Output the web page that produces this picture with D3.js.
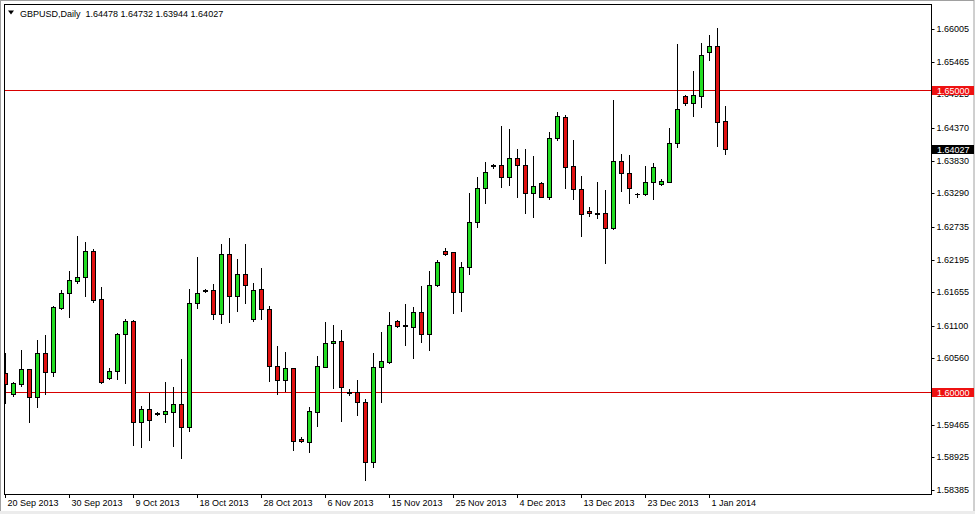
<!DOCTYPE html>
<html><head><meta charset="utf-8">
<script src="https://cdn.jsdelivr.net/npm/d3@7"></script>
<style>
html,body{margin:0;padding:0;background:#fff;}
svg{display:block;}
text{font-family:"Liberation Sans",Arial,sans-serif;}
</style></head><body>
<svg id="chart" width="975" height="514"></svg>
<script>
// ---- data (GBPUSD daily) ----
const symbol = "GBPUSD,Daily";
const open = [1.60319,1.59972,1.60137,1.60385,1.59922,1.60649,1.60335,1.61393,1.61641,1.61840,
1.61906,1.62335,1.61542,1.60236,1.60352,1.60964,1.61179,1.59509,1.59724,1.59658,
1.59641,1.59674,1.59807,1.59426,1.61476,1.61680,1.61691,1.61294,1.62286,1.61592,
1.61955,1.61212,1.61707,1.61377,1.60434,1.60203,1.60401,1.59228,1.59179,1.59674,
1.60418,1.60815,1.60848,1.60005,1.60005,1.59840,1.58848,1.60418,1.60501,1.61179,
1.61105,1.61080,1.61327,1.60964,1.61773,1.62335,1.62319,1.61658,1.62071,1.62815,
1.63377,1.63757,1.63757,1.63559,1.63873,1.63757,1.63294,1.63459,1.63228,1.64203,
1.64550,1.63740,1.63360,1.62996,1.62963,1.62963,1.62715,1.63823,1.63625,1.63278,
1.63278,1.63476,1.63443,1.63476,1.64120,1.64898,1.64782,1.64898,1.65625,1.65724,
1.64478];
const high = [1.60649,1.60170,1.60699,1.60385,1.60864,1.60947,1.61426,1.61691,1.62005,1.62583,
1.62484,1.62368,1.61740,1.60401,1.60980,1.61212,1.61195,1.59774,1.59989,1.59674,
1.60170,1.60087,1.60550,1.61707,1.62236,1.61707,1.61790,1.62451,1.62550,1.62203,
1.62451,1.61807,1.62054,1.61426,1.60765,1.60666,1.60401,1.59261,1.59757,1.60600,
1.61162,1.61112,1.61030,1.60055,1.60203,1.59889,1.60649,1.60997,1.61327,1.61195,
1.61459,1.61410,1.61757,1.62005,1.62187,1.62385,1.62319,1.62154,1.63294,1.63559,
1.63806,1.63774,1.64401,1.64352,1.64021,1.64021,1.63906,1.63470,1.64302,1.64633,
1.64584,1.64170,1.63575,1.63063,1.63476,1.63344,1.64831,1.63939,1.63922,1.63294,
1.63740,1.63790,1.63525,1.64368,1.65757,1.64914,1.65311,1.65773,1.65906,1.66021,
1.64732];
const low = [1.59823,1.59939,1.60104,1.59509,1.59757,1.59972,1.60269,1.61377,1.61245,1.61807,
1.61592,1.61492,1.60153,1.60220,1.60220,1.60153,1.59129,1.59096,1.59211,1.59625,
1.59509,1.59112,1.58914,1.59360,1.61393,1.61658,1.61212,1.61146,1.61162,1.61344,
1.61476,1.61179,1.61212,1.60187,1.59972,1.60022,1.59046,1.59179,1.59013,1.59443,
1.60418,1.60071,1.59526,1.59955,1.59625,1.58550,1.58765,1.59840,1.60484,1.61080,
1.60782,1.60567,1.60831,1.60699,1.61757,1.62269,1.61311,1.61344,1.61955,1.62733,
1.63129,1.63707,1.63393,1.63426,1.63228,1.62963,1.62897,1.63220,1.63195,1.64170,
1.63377,1.63195,1.62583,1.62914,1.62881,1.62137,1.62699,1.63327,1.63129,1.63228,
1.63261,1.63195,1.63426,1.63476,1.64054,1.64749,1.64567,1.64716,1.65492,1.64071,
1.63944];
const close = [1.60137,1.60153,1.60385,1.59922,1.60649,1.60335,1.61410,1.61641,1.61856,1.61906,
1.62335,1.61525,1.60170,1.60352,1.60964,1.61179,1.59509,1.59724,1.59542,1.59641,
1.59691,1.59807,1.59426,1.61476,1.61641,1.61685,1.61294,1.62286,1.61592,1.61955,
1.61773,1.61691,1.61377,1.60434,1.60203,1.60401,1.59195,1.59195,1.59691,1.60434,
1.60815,1.60848,1.60087,1.59995,1.59840,1.58848,1.60418,1.60517,1.61113,1.61096,
1.61096,1.61327,1.60964,1.61773,1.62154,1.62286,1.61658,1.62071,1.62815,1.63377,
1.63641,1.63740,1.63559,1.63873,1.63757,1.63294,1.63409,1.63228,1.64203,1.64567,
1.63724,1.63360,1.62947,1.62963,1.62955,1.62715,1.63823,1.63625,1.63377,1.63270,
1.63476,1.63724,1.63492,1.64120,1.64682,1.64782,1.64914,1.65576,1.65724,1.64468,
1.64027];
const dateLabels = ["20 Sep 2013","30 Sep 2013","9 Oct 2013","18 Oct 2013","28 Oct 2013","6 Nov 2013",
  "15 Nov 2013","25 Nov 2013","4 Dec 2013","13 Dec 2013","23 Dec 2013","1 Jan 2014"];
const barsPerLabel = 8;
const priceTicks = [1.66005,1.65465,1.64925,1.64370,1.63830,1.63290,1.62735,1.62195,1.61655,
  1.61100,1.60560,1.59465,1.58925,1.58385];
const levels = [1.65000, 1.60000];

// ---- layout ----
const W = 975, H = 514;
const plot = {left: 4, top: 4, right: 931, bottom: 494};
const svg = d3.select("#chart");

const n = open.length;
const x = d3.scaleLinear().domain([0, n - 1]).range([5, 5 + 8 * (n - 1)]);
const y = d3.scaleLinear().domain([1.58385, 1.66005]).range([490, 29]);

const UP = "#22dd22", DOWN = "#e01010";

// outer window frame
svg.append("rect").attr("x", 0.5).attr("y", 0.5).attr("width", W - 1.5).attr("height", H - 3)
  .attr("fill", "#fff").attr("stroke", "#a0a0a0");
svg.append("rect").attr("x", 0).attr("y", H - 3).attr("width", W).attr("height", 3).attr("fill", "#ececec");

// clip
svg.append("clipPath").attr("id", "clip").append("rect")
  .attr("x", plot.left + 1).attr("y", plot.top + 1)
  .attr("width", plot.right - plot.left - 1).attr("height", plot.bottom - plot.top - 1);

const g = svg.append("g").attr("clip-path", "url(#clip)");

// horizontal level lines
g.selectAll("line.level").data(levels).join("line")
  .attr("class", "level")
  .attr("x1", plot.left).attr("x2", plot.right)
  .attr("y1", d => Math.round(y(d)) + 0.5).attr("y2", d => Math.round(y(d)) + 0.5)
  .attr("stroke", "#d80000").attr("stroke-width", 1);

// candles
const idx = d3.range(n);
const px = i => Math.round(x(i));
const py = v => Math.round(y(v));

const c = g.selectAll("g.candle").data(idx).join("g").attr("class", "candle");
c.append("line")
  .attr("x1", i => px(i) + 0.5).attr("x2", i => px(i) + 0.5)
  .attr("y1", i => py(high[i])).attr("y2", i => py(low[i]) + 1)
  .attr("stroke", "#000").attr("stroke-width", 1);
c.each(function(i) {
  const sel = d3.select(this);
  const top = py(Math.max(open[i], close[i]));
  const bot = py(Math.min(open[i], close[i]));
  if (bot - top < 1) {
    sel.append("line")
      .attr("x1", px(i) - 2).attr("x2", px(i) + 3)
      .attr("y1", top + 0.5).attr("y2", top + 0.5)
      .attr("stroke", "#000").attr("stroke-width", 1);
  } else {
    sel.append("rect")
      .attr("x", px(i) - 1.5).attr("width", 4)
      .attr("y", top + 0.5).attr("height", bot - top)
      .attr("fill", close[i] >= open[i] ? UP : DOWN)
      .attr("stroke", "#000").attr("stroke-width", 1);
  }
});

// plot frame
svg.append("rect")
  .attr("x", plot.left + 0.5).attr("y", plot.top + 0.5)
  .attr("width", plot.right - plot.left).attr("height", plot.bottom - plot.top)
  .attr("fill", "none").attr("stroke", "#000");

// title
svg.append("path").attr("d", "M8,10.5 L14,10.5 L11,14.5 Z").attr("fill", "#000");
const last = n - 1;
svg.append("text").attr("x", 20).attr("y", 17).attr("font-size", 9).attr("fill", "#000")
  .attr("xml:space", "preserve")
  .text(`${symbol}  ${open[last].toFixed(5)} ${high[last].toFixed(5)} ${low[last].toFixed(5)} ${close[last].toFixed(5)}`);

// right price axis
const yAxis = d3.axisRight(y).tickValues(priceTicks).tickSize(3).tickPadding(2)
  .tickFormat(d3.format(".5f"));
const ya = svg.append("g").attr("transform", `translate(${plot.right + 0.5},0)`).call(yAxis);
ya.select(".domain").remove();
ya.selectAll(".tick").attr("transform", d => `translate(0,${Math.round(y(d)) + 0.5})`);
ya.selectAll("text").attr("font-size", 9).attr("font-family", "Liberation Sans, Arial, sans-serif").attr("fill", "#000");
ya.selectAll("line").attr("stroke", "#000");

// level labels (red boxes) and current price box
function priceBox(v, fill) {
  const yy = Math.round(y(v));
  svg.append("rect").attr("x", plot.right + 1).attr("y", yy - 4).attr("width", 42).attr("height", 9).attr("fill", fill);
  svg.append("text").attr("x", plot.right + 6).attr("y", yy + 0.5).attr("dy", "0.35em")
    .attr("font-size", 9).attr("fill", "#fff").text(v.toFixed(5));
}
levels.forEach(v => priceBox(v, "#ee1111"));
priceBox(close[last], "#000");

// bottom date axis
const tickIdx = dateLabels.map((_, k) => k * barsPerLabel);
const xAxis = d3.axisBottom(x).tickValues(tickIdx).tickSize(4).tickFormat((d, k) => dateLabels[k]);
const xa = svg.append("g").attr("transform", `translate(0,${plot.bottom})`).call(xAxis);
xa.select(".domain").remove();
xa.selectAll(".tick").attr("transform", d => `translate(${Math.round(x(d)) + 0.5},0)`);
xa.selectAll("line").attr("stroke", "#000");
xa.selectAll("text").attr("font-size", 9).attr("font-family", "Liberation Sans, Arial, sans-serif").attr("fill", "#000")
  .attr("text-anchor", "start").attr("x", 2).attr("y", 6).attr("dy", "0.71em");
</script>
</body></html>
